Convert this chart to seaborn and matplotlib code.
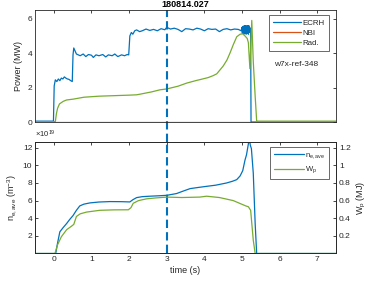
import matplotlib
matplotlib.use("Agg")
from matplotlib import pyplot as plt
from matplotlib.ticker import FixedLocator, FuncFormatter
import seaborn as sns

# Power traces (MW)
ecrh_t = [-0.5, -0.01, 0.01, 0.04, 0.08, 0.12, 0.16, 0.2, 0.24, 0.28, 0.32, 0.36, 0.4, 0.45, 0.49,
          0.51, 0.53, 0.56, 0.6, 0.65, 0.7, 0.78, 0.85, 0.92, 1.0, 1.05, 1.12, 1.2, 1.3, 1.38, 1.45,
          1.55, 1.62, 1.7, 1.8, 1.88, 1.95, 1.99, 2.02, 2.06, 2.1, 2.15, 2.2, 2.28, 2.35, 2.45, 2.55,
          2.65, 2.75, 2.85, 2.95, 3.0, 3.1, 3.2, 3.3, 3.4, 3.5, 3.6, 3.7, 3.8, 3.9, 4.0, 4.1, 4.2,
          4.3, 4.4, 4.5, 4.6, 4.7, 4.8, 4.9, 4.98, 5.0, 5.01, 5.02, 5.03, 5.04, 5.05, 5.06, 5.07,
          5.08, 5.09, 5.1, 5.11, 5.12, 5.13, 5.14, 5.15, 5.16, 5.17, 5.18, 5.19, 5.2, 5.21, 5.22,
          5.23, 5.24, 7.5]
ecrh_p = [0.05, 0.05, 2.1, 2.45, 2.35, 2.5, 2.4, 2.55, 2.5, 2.62, 2.55, 2.5, 2.48, 2.4, 2.35,
          3.9, 4.3, 4.15, 3.95, 3.9, 3.85, 3.95, 3.8, 3.92, 3.88, 3.75, 3.9, 3.85, 3.92, 3.78, 3.9,
          3.85, 3.95, 3.8, 3.9, 3.85, 3.92, 3.9, 5.0, 5.2, 5.1, 5.3, 5.35, 5.25, 5.3, 5.4, 5.32,
          5.38, 5.3, 5.42, 5.36, 5.5, 5.4, 5.45, 5.38, 5.25, 5.42, 5.4, 5.35, 5.45, 5.4, 5.3, 5.42,
          5.38, 5.4, 5.25, 5.38, 5.42, 5.35, 5.4, 5.38, 5.3, 5.5, 5.15, 5.55, 5.2, 5.5, 5.1, 5.6,
          5.2, 5.55, 5.15, 5.6, 5.1, 5.55, 5.2, 5.6, 5.15, 5.5, 5.1, 5.6, 5.2, 5.5, 5.3, 5.45,
          5.4, 0.0, 0.0]
nbi_t = [-0.5, 7.5]
nbi_p = [0.0, 0.0]
rad_t = [-0.5, 0.04, 0.07, 0.1, 0.15, 0.25, 0.34, 0.52, 0.8, 1.2, 1.6, 2.0, 2.2, 2.3, 2.6, 2.82,
         3.0, 3.3, 3.53, 3.8, 3.88, 4.1, 4.24, 4.33, 4.5, 4.6, 4.68, 4.77, 4.86, 4.95, 5.02, 5.08,
         5.14, 5.17, 5.21, 5.26, 5.3, 5.35, 5.39, 7.5]
rad_p = [0.02, 0.02, 0.5, 0.8, 1.05, 1.2, 1.28, 1.33, 1.44, 1.5, 1.53, 1.56, 1.58, 1.62, 1.75, 1.87,
         1.92, 2.08, 2.26, 2.42, 2.46, 2.58, 2.7, 2.8, 3.25, 3.6, 4.0, 4.5, 4.95, 5.1, 5.12, 5.0,
         4.85, 4.6, 3.1, 5.9, 3.5, 1.5, 0.05, 0.05]

# Density (1e19 m^-3) and stored energy (MJ)
ne_t = [-0.5, 0.05, 0.1, 0.16, 0.25, 0.34, 0.42, 0.51, 0.6, 0.69, 0.8, 0.96, 1.2, 1.49, 1.8, 2.02,
        2.1, 2.2, 2.35, 2.55, 2.8, 3.0, 3.26, 3.45, 3.62, 3.85, 4.06, 4.3, 4.59, 4.75, 4.86, 4.95,
        5.02, 5.08, 5.12, 5.17, 5.2, 5.22, 5.25, 5.3, 5.35, 5.39, 7.5]
ne_v = [0.0, 0.0, 1.2, 2.46, 2.95, 3.4, 3.85, 4.3, 4.9, 5.4, 5.6, 5.74, 5.84, 5.89, 5.88, 5.85,
        6.1, 6.34, 6.45, 6.5, 6.55, 6.6, 6.8, 7.1, 7.36, 7.5, 7.62, 7.75, 8.0, 8.2, 8.38, 8.8,
        9.4, 10.6, 11.2, 12.45, 13.0, 12.3, 11.9, 9.1, 3.4, 0.0, 0.0]
wp_t = [-0.5, 0.03, 0.1, 0.2, 0.34, 0.47, 0.53, 0.6, 0.7, 0.87, 1.22, 1.6, 1.98, 2.05, 2.11, 2.25,
        2.46, 2.7, 3.0, 3.4, 3.88, 4.06, 4.4, 4.77, 4.95, 5.1, 5.17, 5.23, 5.3, 5.35, 7.5]
wp_v = [0.0, 0.0, 0.1, 0.19, 0.27, 0.31, 0.33, 0.42, 0.45, 0.47, 0.49, 0.495, 0.496, 0.52, 0.57,
        0.6, 0.62, 0.63, 0.64, 0.635, 0.64, 0.65, 0.635, 0.6, 0.567, 0.54, 0.53, 0.49, 0.15, 0.0, 0.0]

shot = "180814.027"
config = "w7x-ref-348"
t_mark = 3.0

BLUE = "#0072BD"
ORANGE = "#D95319"
GREEN = "#77AC30"
DARK = "#262626"


def style_axes(ax):
    ax.tick_params(direction="in", length=2.5, width=0.6, colors=DARK, labelsize=6,
                   top=True, pad=2)
    for s in ax.spines.values():
        s.set_color(DARK)
        s.set_linewidth(0.6)


def matlab_fmt(v, pos):
    return f"{v:g}"


def main():
    sns.set_style("white")
    plt.rcParams["font.family"] = ["Liberation Sans", "DejaVu Sans"]
    plt.rcParams["mathtext.fontset"] = "custom"
    plt.rcParams["mathtext.rm"] = "Liberation Sans"
    plt.rcParams["mathtext.it"] = "Liberation Sans"

    fig = plt.figure(figsize=(3.74, 2.84), dpi=100)
    ax1 = fig.add_axes([0.0936, 0.5704, 0.805, 0.394])
    ax2 = fig.add_axes([0.0936, 0.1074, 0.805, 0.3926])

    # top panel: powers
    sns.lineplot(x=ecrh_t, y=ecrh_p, ax=ax1, color=BLUE, lw=0.9, estimator=None, sort=False, label="ECRH")
    sns.lineplot(x=nbi_t, y=nbi_p, ax=ax1, color=ORANGE, lw=0.9, estimator=None, sort=False, label="NBI")
    sns.lineplot(x=rad_t, y=rad_p, ax=ax1, color=GREEN, lw=0.9, estimator=None, sort=False, label="Rad.")
    ax1.set_xlim(-0.5, 7.5)
    ax1.set_ylim(0, 6.5)
    ax1.yaxis.set_major_locator(FixedLocator([0, 2, 4, 6]))
    ax1.xaxis.set_major_locator(FixedLocator(range(0, 8)))
    ax1.set_xticklabels([])
    ax1.set_xlabel("")
    ax1.set_ylabel("Power (MW)", fontsize=6.5, color=DARK, labelpad=3)
    style_axes(ax1)
    ax1.tick_params(right=True)
    ax1.set_title(shot, fontsize=6.5, fontweight="bold", color="black", pad=2)
    ax1.text(6.44, 3.33, config, fontsize=6, color=DARK, ha="center", va="center")
    leg = ax1.legend(loc="upper right", bbox_to_anchor=(0.977, 0.955), fontsize=5.7, frameon=True,
                     fancybox=False, edgecolor=DARK, handlelength=3.5, borderpad=0.55,
                     labelspacing=0.3, handletextpad=0.25, borderaxespad=0)
    leg.get_frame().set_linewidth(0.6)
    ax1.axvline(t_mark, ymin=-0.18, ymax=1.0, clip_on=False, color=BLUE, lw=1.5, ls=(0, (4, 2)))

    # bottom panel: density and stored energy
    sns.lineplot(x=ne_t, y=ne_v, ax=ax2, color=BLUE, lw=0.9, estimator=None, sort=False,
                 label=r"n$_{e,ave}$", legend=False)
    ax2.set_xlim(-0.5, 7.5)
    ax2.set_ylim(0, 12.65)
    ax2.yaxis.set_major_locator(FixedLocator([2, 4, 6, 8, 10, 12]))
    ax2.xaxis.set_major_locator(FixedLocator(range(0, 8)))
    ax2.set_xlabel("time (s)", fontsize=6.5, color=DARK, labelpad=2)
    ax2.set_ylabel(r"n$_{e,ave}$ (m$^{-3}$)", fontsize=6.5, color=DARK, labelpad=3)
    style_axes(ax2)
    ax2.text(0.0, 1.015, r"$\times$10$^{19}$", transform=ax2.transAxes, fontsize=5.5,
             color=DARK, ha="left", va="bottom")
    ax2.axvline(t_mark, ymin=0, ymax=1.0, clip_on=False, color=BLUE, lw=1.5, ls=(0, (4, 2)))

    ax3 = ax2.twinx()
    sns.lineplot(x=wp_t, y=wp_v, ax=ax3, color=GREEN, lw=0.9, estimator=None, sort=False,
                 label=r"W$_p$", legend=False)
    ax3.set_ylim(0, 1.265)
    ax3.yaxis.set_major_locator(FixedLocator([0.2, 0.4, 0.6, 0.8, 1.0, 1.2]))
    ax3.yaxis.set_major_formatter(FuncFormatter(matlab_fmt))
    ax3.set_ylabel(r"W$_p$ (MJ)", fontsize=6.5, color=DARK, labelpad=3)
    style_axes(ax3)
    ax3.tick_params(left=False, right=True, labelright=True, labelleft=False)

    handles = ax2.get_lines()[:1] + ax3.get_lines()[:1]
    leg2 = ax3.legend(handles, [r"n$_{e,ave}$", r"W$_p$"], loc="upper right",
                      bbox_to_anchor=(0.975, 0.955), fontsize=5.5, frameon=True, fancybox=False,
                      edgecolor=DARK, handlelength=3.9, borderpad=0.5, labelspacing=0.5,
                      handletextpad=0.15, borderaxespad=0)
    leg2.get_frame().set_linewidth(0.6)

    fig.savefig("out.png", dpi=100)


if __name__ == "__main__":
    main()
